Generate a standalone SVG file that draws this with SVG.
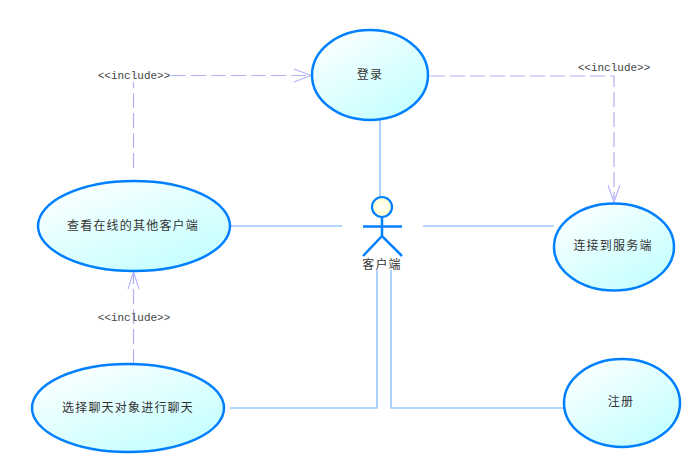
<svg xmlns="http://www.w3.org/2000/svg" width="692" height="475" viewBox="0 0 692 475">
<style>
.uc{stroke:#0080ff;stroke-width:2.5;fill:url(#g)}
.t{font-family:"Noto Sans CJK SC","Liberation Sans",sans-serif;font-size:12px;fill:#333;text-anchor:middle;letter-spacing:1.2px}
.s{font-family:"Liberation Mono",monospace;font-size:11px;fill:#444;text-anchor:middle}
.a{fill:none;stroke:#66adff;stroke-width:1.1}
.d{fill:none;stroke:#b0b0f5;stroke-width:1.2;stroke-dasharray:15 5}
.h{fill:none;stroke:#b3b3ff;stroke-width:1.1}
.act{fill:none;stroke:#0080ff;stroke-width:2.5}
</style>
<defs>
<linearGradient id="g" x1="0.1" y1="0" x2="0.9" y2="1"><stop offset="0" stop-color="#fff"/><stop offset="1" stop-color="#bfffff"/></linearGradient>
<radialGradient id="y"><stop offset="0" stop-color="#fff"/><stop offset="1" stop-color="#ffffc8"/></radialGradient>
</defs>
<rect width="692" height="475" fill="#fff"/>
<g id="connectors">
<path class="a" d="M380 120V196"/>
<path class="a" d="M231 226H342"/>
<path class="a" d="M423 226H554"/>
<path class="a" d="M230 408H377V270"/>
<path class="a" d="M391 270V408H564"/>
<path class="d" d="M133.500 168V82"/>
<path class="d" d="M171 75.500H310"/>
<path class="h" d="M294 69L311 75.500L294 82"/>
<path class="d" d="M430 76H614V200"/>
<path class="h" d="M608 185L614 202L620 185"/>
<path class="d" d="M133.500 364V272"/>
<path class="h" d="M128 289L133.500 272L139 289"/>
</g>
<g id="login"><ellipse class="uc" cx="370" cy="75" rx="58" ry="45"/><text class="t" x="370" y="79">登录</text></g>
<g id="view"><ellipse class="uc" cx="134" cy="226" rx="96" ry="45"/><text class="t" x="133" y="230">查看在线的其他客户端</text></g>
<g id="connect"><ellipse class="uc" cx="614" cy="247" rx="60" ry="43.500"/><text class="t" x="613" y="250">连接到服务端</text></g>
<g id="chat"><ellipse class="uc" cx="128" cy="408" rx="96" ry="44"/><text class="t" x="128" y="412">选择聊天对象进行聊天</text></g>
<g id="register"><ellipse class="uc" cx="622" cy="403" rx="58" ry="44"/><text class="t" x="621" y="406">注册</text></g>
<g id="actor">
<circle cx="382" cy="207" r="10" fill="url(#y)" stroke="#0080ff" stroke-width="2.2"/>
<path class="act" d="M382 217V236M363 226.500H402M363 256L382 236L402 256"/>
<text class="t" x="382" y="269">客户端</text>
</g>
<g id="labels">
<text class="s" x="134" y="79">&lt;&lt;include&gt;&gt;</text>
<text class="s" x="614" y="71">&lt;&lt;include&gt;&gt;</text>
<text class="s" x="134" y="321">&lt;&lt;include&gt;&gt;</text>
</g>
</svg>
